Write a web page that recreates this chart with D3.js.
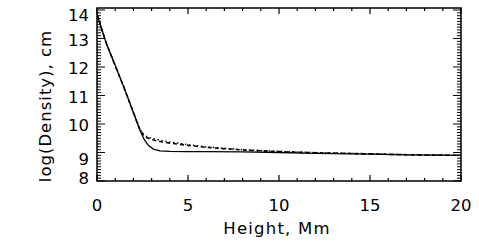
<!DOCTYPE html>
<html><head><meta charset="utf-8">
<script src="https://cdn.jsdelivr.net/npm/d3@7"></script>
<style>body{margin:0;background:#fff}svg{display:block}text{font-family:"DejaVu Sans",sans-serif;fill:#000}</style>
</head><body>
<svg id="c" width="479" height="242"></svg>
<script>
// Data
const xTicks = [0, 5, 10, 15, 20];
const yTicks = [8, 9, 10, 11, 12, 13, 14];
const solidX = [0, 0.25, 0.5, 1.0, 1.5, 2.0, 2.36, 2.6, 2.82, 3.1, 3.46, 4.0, 5, 6, 8, 10, 12, 15, 17, 20];
const solidY = [13.85, 13.35, 12.85, 12.05, 11.25, 10.4, 9.78, 9.45, 9.25, 9.12, 9.06, 9.04, 9.03, 9.03, 9.02, 9.0, 8.97, 8.94, 8.92, 8.9];
const dashX = [0, 0.25, 0.5, 1.0, 1.5, 2.0, 2.36, 2.6, 3.0, 3.5, 4, 5, 6, 7, 8, 10, 12, 15, 17, 20];
const dashY = [13.85, 13.35, 12.85, 12.05, 11.25, 10.4, 9.8, 9.56, 9.45, 9.38, 9.33, 9.25, 9.18, 9.13, 9.09, 9.03, 8.99, 8.95, 8.92, 8.9];
const dotX = [0, 0.25, 0.5, 1.0, 1.5, 2.0, 2.36, 2.6, 3.0, 3.5, 4, 5, 6, 7, 8, 10, 12, 15, 17, 20];
const dotY = [13.85, 13.35, 12.85, 12.05, 11.25, 10.4, 9.82, 9.6, 9.5, 9.43, 9.37, 9.28, 9.2, 9.15, 9.1, 9.04, 9.0, 8.96, 8.93, 8.9];

// Layout / style
const L = 97, R = 461, T = 8, B = 181;
const yLabelDy = {14: 5, 13: 1.5, 12: 1, 11: 1.5, 10: 1, 9: 7, 8: -3.5};
const svg = d3.select("#c");
const x = d3.scaleLinear().domain([0, 20]).range([L, R]);
const y = d3.scaleLinear().domain([8, 14.07]).range([B, T]);

const g = svg.append("g");
const xMinor = d3.range(0, 20.001, 1);
const yMinor = d3.range(80, 140.5, 1).map(v => v / 10);
g.selectAll(".xb").data(xMinor).join("line")
  .attr("x1", d => x(d)).attr("x2", d => x(d))
  .attr("y1", B).attr("y2", d => B - (d % 5 === 0 ? 6 : 3))
  .attr("stroke", "#000").attr("stroke-width", 1.2);
g.selectAll(".xt").data(xMinor).join("line")
  .attr("x1", d => x(d)).attr("x2", d => x(d))
  .attr("y1", T).attr("y2", d => T + (d % 5 === 0 ? 6 : 3))
  .attr("stroke", "#000").attr("stroke-width", 1.2);
g.selectAll(".yl").data(yMinor).join("line")
  .attr("y1", d => y(d)).attr("y2", d => y(d))
  .attr("x1", L).attr("x2", d => L + (Math.abs(d - Math.round(d)) < 1e-6 ? 8 : 4))
  .attr("stroke", "#000").attr("stroke-width", 1);
g.selectAll(".yr").data(yMinor).join("line")
  .attr("y1", d => y(d)).attr("y2", d => y(d))
  .attr("x1", R).attr("x2", d => R - (Math.abs(d - Math.round(d)) < 1e-6 ? 8 : 4))
  .attr("stroke", "#000").attr("stroke-width", 1);

g.append("rect").attr("x", L).attr("y", T).attr("width", R - L).attr("height", B - T)
  .attr("fill", "none").attr("stroke", "#000").attr("stroke-width", 1.5);

g.selectAll(".xlab").data(xTicks).join("text")
  .attr("x", d => x(d)).attr("y", 211).attr("text-anchor", "middle")
  .attr("font-size", 16.5).text(d => d);
g.selectAll(".ylab").data(yTicks).join("text")
  .attr("x", 89).attr("y", d => y(d) + yLabelDy[d] + 6).attr("text-anchor", "end")
  .attr("font-size", 16.5).text(d => d);

svg.append("text").attr("x", 277).attr("y", 234).attr("text-anchor", "middle")
  .attr("font-size", 16.5).attr("letter-spacing", 1.2).text("Height, Mm");
svg.append("text").attr("transform", "translate(51,106) rotate(-90)").attr("text-anchor", "middle")
  .attr("font-size", 16.5).attr("letter-spacing", 1.0).text("log(Density), cm");

const line = d3.line().x(d => x(d[0])).y(d => y(d[1]));
svg.append("clipPath").attr("id", "cp").append("rect")
  .attr("x", L).attr("y", T).attr("width", R - L).attr("height", B - T);
const lg = svg.append("g").attr("clip-path", "url(#cp)");
lg.append("path").datum(dotX.map((v, i) => [v, dotY[i]])).attr("d", line)
  .attr("fill", "none").attr("stroke", "#000").attr("stroke-width", 1.3).attr("stroke-dasharray", "1.5,2.5");
lg.append("path").datum(dashX.map((v, i) => [v, dashY[i]])).attr("d", line)
  .attr("fill", "none").attr("stroke", "#000").attr("stroke-width", 1.6).attr("stroke-dasharray", "4,3");
lg.append("path").datum(solidX.map((v, i) => [v, solidY[i]])).attr("d", line)
  .attr("fill", "none").attr("stroke", "#000").attr("stroke-width", 1.3);
</script>
</body></html>
